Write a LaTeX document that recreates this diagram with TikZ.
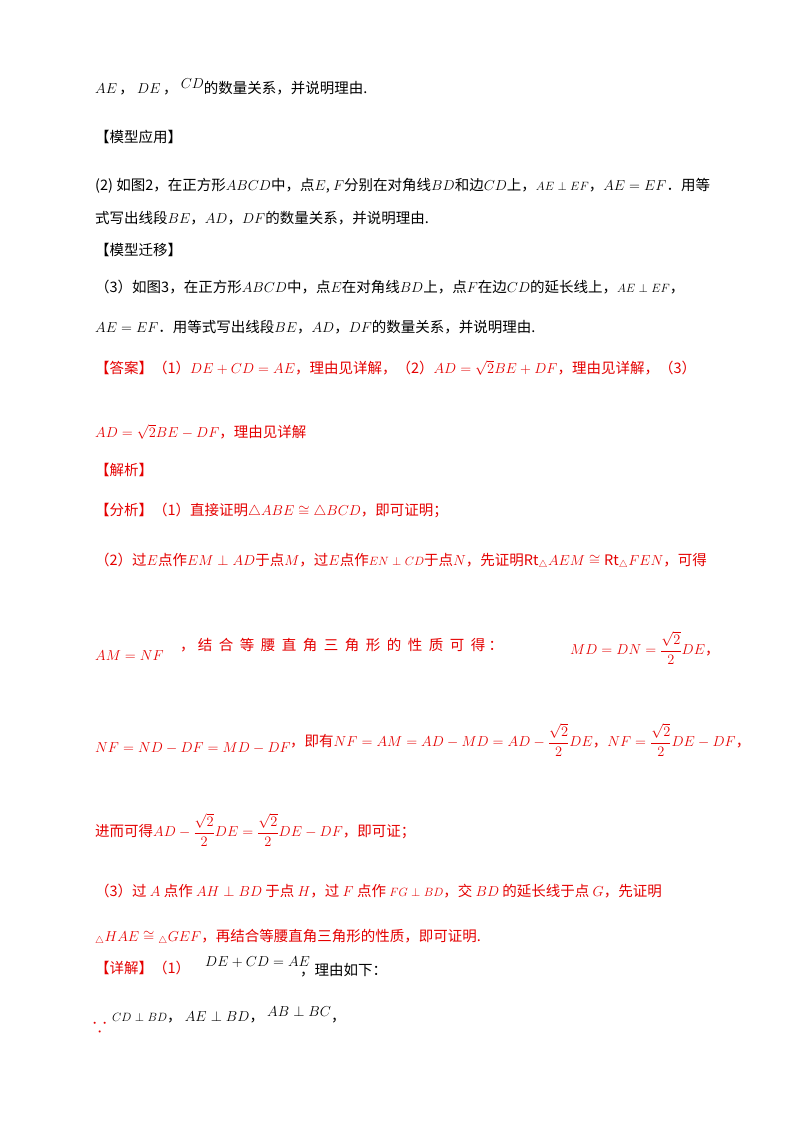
\documentclass[tikz,border=0pt]{standalone}
\usepackage{amsmath,amssymb}
\usepackage{fontspec}
\setmainfont{Noto Sans CJK SC}
\definecolor{ans}{RGB}{228,0,0}
\newcommand{\sm}[1]{{\fontsize{11.5}{13}\selectfont$#1$}}
\begin{document}
\begin{tikzpicture}[x=1pt,y=-1pt,
  t/.style={anchor=west,inner sep=0pt,font=\fontsize{14.5}{17}\selectfont},
  r/.style={t,text=ans}]
\useasboundingbox (0,0) rectangle (800,1132);
\node[t] (l1) at (95,87) {$AE$\,，\ $DE$\,，\ \raisebox{5pt}{$CD$}的数量关系，并说明理由.};
\node[t] (l2) at (95,137) {【模型应用】};
\node[t] (l3) at (95,186) {(2) 如图2，在正方形$ABCD$中，点$E$, $F$分别在对角线$BD$和边$CD$上，\sm{AE\perp EF}，$AE=EF$．用等};
\node[t] (l4) at (95,218) {式写出线段$BE$，$AD$，$DF$的数量关系，并说明理由.};
\node[t] (l5) at (95,250) {【模型迁移】};
\node[t] (l6) at (95,287) {（3）如图3，在正方形$ABCD$中，点$E$在对角线$BD$上，点$F$在边$CD$的延长线上，\sm{AE\perp EF}，};
\node[t] (l7) at (95,327) {$AE=EF$．用等式写出线段$BE$，$AD$，$DF$的数量关系，并说明理由.};
\node[r] (l8) at (95,368) {【答案】（1）$DE+CD=AE$，理由见详解，（2）$AD=\sqrt2BE+DF$，理由见详解，（3）};
\node[r] (l9) at (95,432) {$AD=\sqrt2BE-DF$，理由见详解};
\node[r] (l10) at (95,470) {【解析】};
\node[r] (l11) at (95,511) {【分析】（1）直接证明$\triangle ABE\cong\triangle BCD$，即可证明；};
\node[r] (l12) at (95,561) {（2）过$E$点作$EM\perp AD$于点$M$，过$E$点作\sm{EN\perp CD}于点$N$，先证明$\mathrm{Rt}_\triangle AEM\cong\mathrm{Rt}_\triangle FEN$，可得};
\node[r] (l13a) at (95,656) {$AM=NF$};
\node[r] (l13b) at (180,645) {，\ 结\ \ 合\ \ 等\ \ 腰\ \ 直\ \ 角\ \ 三\ \ 角\ \ 形\ \ 的\ \ 性\ \ 质\ \ 可\ \ 得\ ：};
\node[r] (l13c) at (570,648) {$MD=DN=\dfrac{\sqrt2}{2}DE$，};
\node[r] (l14a) at (95,748) {$NF=ND-DF=MD-DF$};
\node[r] (l14b) at (290,740) {，即有$NF=AM=AD-MD=AD-\dfrac{\sqrt2}{2}DE$，$NF=\dfrac{\sqrt2}{2}DE-DF$，};
\node[r] (l15) at (95,830) {进而可得$AD-\dfrac{\sqrt2}{2}DE=\dfrac{\sqrt2}{2}DE-DF$，即可证；};
\node[r] (l16) at (95,891) {（3）过\ $A$\ 点作\ $AH\perp BD$\ 于点\ $H$，过\ $F$\ 点作\ \sm{FG\perp BD}，交\ $BD$\ 的延长线于点\ $G$，先证明};
\node[r] (l17) at (95,937) {${}_\triangle HAE\cong{}_\triangle GEF$，再结合等腰直角三角形的性质，即可证明.};
\node[r] (l18a) at (95,968) {【详解】（1）};
\node[t] (l18b) at (205,962) {$DE+CD=AE$};
\node[t] (l18c) at (300,970) {，理由如下：};
\node[r,font=\fontsize{20}{20}\selectfont] (l19a) at (93,1025) {$\because$};
\node[t] (l19b) at (112,1015) {\sm{CD\perp BD}，\ $AE\perp BD$，\ \raisebox{5pt}{$AB\perp BC$}，};
\end{tikzpicture}
\end{document}
